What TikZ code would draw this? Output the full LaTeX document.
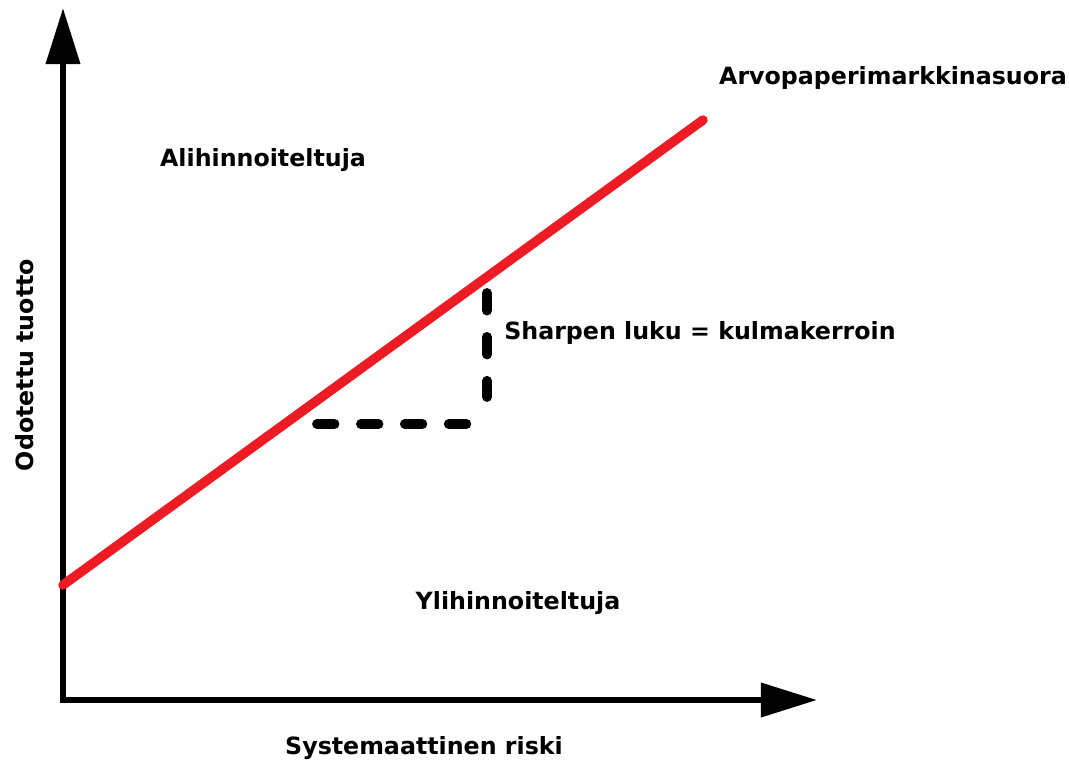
\documentclass[tikz,border=0pt]{standalone}
\usepackage{fontspec}
\setmainfont{DejaVu Sans}
\usepackage{tikz}
\usetikzlibrary{arrows.meta}
\usetikzlibrary{positioning}
\definecolor{paintred}{RGB}{237,28,36}

\begin{document}
\begin{tikzpicture}[x=0.02cm,y=-0.02cm,
    lbl/.style={font=\fontsize{13.5}{16}\selectfont\bfseries},
    axis/.style={line width=3.5pt,-{Triangle[length=32pt,width=19pt]}},
    sml/.style={paintred,line width=5.4pt,line cap=round},
    slope/.style={line width=5.6pt,line cap=round,dash pattern=on 10pt off 15pt}]
  \useasboundingbox (0,0) rectangle (1069,762);
  % axes
  \coordinate (o) at (63,700);
  \coordinate (ytip) at (63,8);
  \coordinate (xtip) at (817,700);
  \draw[axis] ([yshift=-1.75pt]o) -- (ytip);
  \draw[axis] ([xshift=-1.75pt]o) -- (xtip);
  % security market line
  \coordinate (a) at (63,585);
  \coordinate (b) at (703,120);
  \draw[sml] (a) -- (b);
  % slope triangle
  \coordinate (p) at (317,424);
  \coordinate (pend) at (470,424);
  \coordinate (r) at (487,293);
  \coordinate (rend) at (487,397);
  \draw[slope] (p) -- (pend);
  \draw[slope] (r) -- (rend);
  % labels
  \node[lbl] (sml) at (893,78) {Arvopaperimarkkinasuora};
  \node[lbl] (ali) at (263,160) {Alihinnoiteltuja};
  \node[lbl] (sharpe) at (700,333) {Sharpen luku = kulmakerroin};
  \node[lbl] (yli) at (518,603) {Ylihinnoiteltuja};
  \node[lbl] (xlab) at (424,748) {Systemaattinen riski};
  \node[lbl,rotate=90] (ylab) at (25,365) {Odotettu tuotto};
\end{tikzpicture}
\end{document}
